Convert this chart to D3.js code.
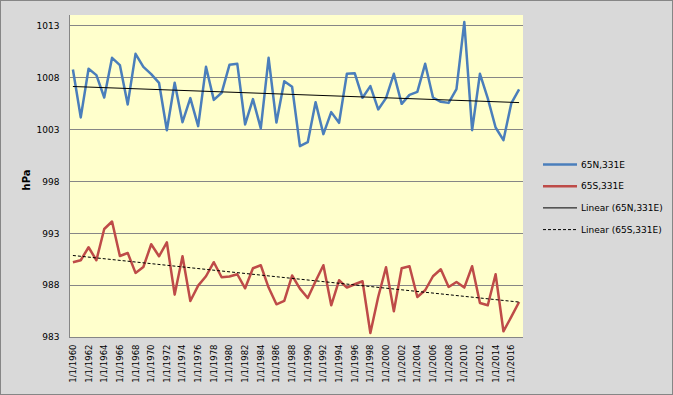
<!DOCTYPE html>
<html>
<head>
<meta charset="utf-8">
<script src="https://cdn.jsdelivr.net/npm/d3@7"></script>
<style>
  body { margin: 0; padding: 0; background: #fff; }
  svg text { font-family: "DejaVu Sans", Verdana, sans-serif; fill: #000; }
</style>
</head>
<body>
<div id="chart"></div>
<script>
// data //
var years = d3.range(1960, 2018);

var north = [1008.76, 1004.14, 1008.82, 1008.21, 1006.06, 1009.88, 1009.18, 1005.39, 1010.26, 1009.01,
             1008.31, 1007.47, 1002.91, 1007.47, 1003.68, 1006.00, 1003.30, 1009.01, 1005.83, 1006.51,
             1009.20, 1009.30, 1003.46, 1005.90, 1003.08, 1009.88, 1003.65, 1007.63, 1007.09, 1001.37,
             1001.76, 1005.61, 1002.53, 1004.65, 1003.62, 1008.34, 1008.40, 1006.03, 1007.15, 1004.91,
             1006.00, 1008.34, 1005.45, 1006.31, 1006.60, 1009.30, 1006.06, 1005.64, 1005.54, 1006.86,
             1013.32, 1002.91, 1008.34, 1005.97, 1003.17, 1001.95, 1005.49, 1006.83];

var south = [990.20, 990.39, 991.64, 990.39, 993.40, 994.12, 990.80, 991.09, 989.17, 989.74,
             991.93, 990.77, 992.12, 987.08, 990.77, 986.47, 987.95, 988.85, 990.20, 988.75,
             988.82, 989.04, 987.69, 989.62, 989.91, 987.76, 986.15, 986.47, 988.92, 987.66,
             986.76, 988.37, 989.91, 986.05, 988.46, 987.76, 988.08, 988.37, 983.39, 986.85,
             989.71, 985.48, 989.62, 989.81, 986.85, 987.50, 988.85, 989.52, 987.82, 988.30,
             987.76, 989.81, 986.28, 986.05, 989.04, 983.55, 984.93, 986.37];

var yTicks = [983, 988, 993, 998, 1003, 1008, 1013];
var seriesNames = ["65N,331E", "65S,331E", "Linear (65N,331E)", "Linear (65S,331E)"];

const W = 673, H = 395;
const plot = {left: 69, right: 523, top: 15, bottom: 337};

const svg = d3.select("#chart").append("svg")
  .attr("width", W).attr("height", H);

// chart background + border
svg.append("rect")
  .attr("x", 0.5).attr("y", 0.5)
  .attr("width", W - 1).attr("height", H - 1)
  .attr("fill", "#d9d9d9")
  .attr("stroke", "#868686");

svg.append("rect")
  .attr("x", plot.left).attr("y", plot.top)
  .attr("width", plot.right - plot.left).attr("height", plot.bottom - plot.top)
  .attr("fill", "#ffffcc");

const x = d3.scaleBand()
  .domain(years)
  .range([plot.left, plot.right]);
const xc = d => x(d) + x.bandwidth() / 2;

const y = d3.scaleLinear()
  .domain([983, 1014])
  .range([plot.bottom, plot.top]);

// gridlines
svg.append("g")
  .selectAll("line")
  .data(yTicks.slice(1))
  .join("line")
  .attr("x1", plot.left).attr("x2", plot.right)
  .attr("y1", d => Math.round(y(d)) + 0.5).attr("y2", d => Math.round(y(d)) + 0.5)
  .attr("stroke", "#868686");

// y axis
const yAxis = svg.append("g")
  .attr("transform", `translate(${plot.left + 0.5},0)`)
  .call(d3.axisLeft(y).tickValues(yTicks).tickSize(0).tickPadding(10).tickFormat(d3.format("d")));
yAxis.select(".domain").attr("stroke", "#868686").attr("d", `M0,${plot.top}V${plot.bottom}`);
yAxis.selectAll("text").style("font-size", "9px").style("font-family", "DejaVu Sans, sans-serif");

// x axis
const xAxis = svg.append("g")
  .attr("transform", `translate(0,${plot.bottom + 0.5})`)
  .call(d3.axisBottom(x)
    .tickValues(years.filter(d => d % 2 === 0))
    .tickSize(0)
    .tickFormat(d => `1/1/${d}`));
xAxis.select(".domain").attr("stroke", "#868686").attr("d", `M${plot.left},0H${plot.right}`);
xAxis.selectAll("text")
  .style("font-size", "8.5px")
  .style("font-family", "DejaVu Sans, sans-serif")
  .attr("text-anchor", "end")
  .attr("dy", "0.35em")
  .attr("y", 0)
  .attr("transform", "translate(0,7) rotate(-90)");

// axis title
svg.append("text")
  .attr("transform", "translate(30,180) rotate(-90)")
  .attr("text-anchor", "middle")
  .style("font-size", "10px")
  .style("font-weight", "bold")
  .text("hPa");

// linear trend from the data
function trend(vals) {
  var n = vals.length, xs = d3.range(n);
  var mx = d3.mean(xs), my = d3.mean(vals);
  var sxy = d3.sum(xs, (d, i) => (d - mx) * (vals[i] - my));
  var sxx = d3.sum(xs, d => (d - mx) * (d - mx));
  var b = sxy / sxx, a = my - b * mx;
  return [[years[0], a], [years[n - 1], a + b * (n - 1)]];
}

const line = d3.line()
  .x((d, i) => xc(years[i]))
  .y(d => y(d));

const trendLine = d3.line()
  .x(d => xc(d[0]))
  .y(d => y(d[1]));

svg.append("path")
  .datum(north)
  .attr("fill", "none")
  .attr("stroke", "#4a7ebb")
  .attr("stroke-width", 2.5)
  .attr("stroke-linejoin", "round")
  .attr("d", line);

svg.append("path")
  .datum(south)
  .attr("fill", "none")
  .attr("stroke", "#be4b48")
  .attr("stroke-width", 2.5)
  .attr("stroke-linejoin", "round")
  .attr("d", line);

svg.append("path")
  .datum(trend(north))
  .attr("fill", "none")
  .attr("stroke", "#000")
  .attr("stroke-width", 1)
  .attr("d", trendLine);

svg.append("path")
  .datum(trend(south))
  .attr("fill", "none")
  .attr("stroke", "#000")
  .attr("stroke-width", 1)
  .attr("stroke-dasharray", "3,2")
  .attr("d", trendLine);

// legend //
const legendStyles = [
  {color: "#4a7ebb", width: 2.5, dash: null},
  {color: "#be4b48", width: 2.5, dash: null},
  {color: "#000", width: 1, dash: null},
  {color: "#000", width: 1, dash: "3,2"}
];

const legend = svg.append("g")
  .selectAll("g")
  .data(seriesNames)
  .join("g")
  .attr("transform", (d, i) => `translate(543,${164.5 + i * 21.7})`);

legend.append("line")
  .attr("x1", 0).attr("x2", 34)
  .attr("stroke", (d, i) => legendStyles[i].color)
  .attr("stroke-width", (d, i) => legendStyles[i].width)
  .attr("stroke-dasharray", (d, i) => legendStyles[i].dash);

legend.append("text")
  .attr("x", 38)
  .attr("dy", "0.35em")
  .style("font-size", "9px")
  .text(d => d);
</script>
</body>
</html>
